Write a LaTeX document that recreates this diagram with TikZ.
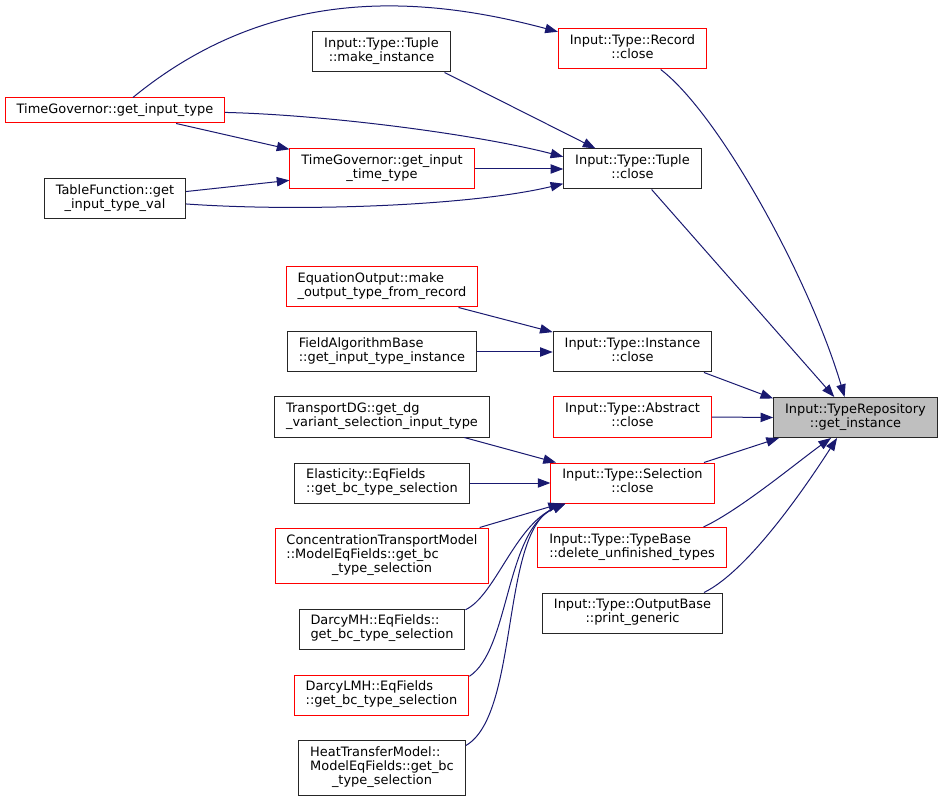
\documentclass[tikz,border=0pt]{standalone}
\usepackage{fontspec}
\setmainfont{DejaVu Sans}
\usepackage{xcolor}
\usepackage{tikz}
\usetikzlibrary{arrows.meta,positioning,calc}
\definecolor{doxedge}{HTML}{191970}
\definecolor{doxgrey}{HTML}{BFBFBF}
\newcommand{\cllab}[2]{\begin{tabular}{@{}l@{}}#1\\\multicolumn{1}{@{}c@{}}{#2}\end{tabular}}
\tikzset{
  dox node/.style={rectangle, draw=black!85, fill=white, line width=0.75pt, inner xsep=8.6pt, inner ysep=0pt, minimum height=18.75pt, font=\fontsize{9.7}{10.5}\selectfont},
  dox trunc/.style={dox node, draw=red},
  dox root/.style={dox node, fill=doxgrey},
  dox two/.style={minimum height=30pt},
  dox three/.style={minimum height=41.25pt},
  dox edge/.style={draw=doxedge, line width=0.75pt, -{Triangle[length=9.5pt,width=7pt]}}
}

\begin{document}
\begin{tikzpicture}[x=0.75pt, y=-0.75pt]
    \useasboundingbox (0,0) rectangle (943,802);

    % Root
    \node [dox root, dox two] (repo) at (855.5,417.5) {\cllab{Input::TypeRepository}{::get\_instance}};

    % Direct callers
    \node [dox trunc, dox two] (record) at (632.5,49) {\cllab{Input::Type::Record}{::close}};
    \node [dox node, dox two] (tuple) at (632.5,169) {\cllab{Input::Type::Tuple}{::close}};
    \node [dox node, dox two] (instance) at (632.5,352) {\cllab{Input::Type::Instance}{::close}};
    \node [dox trunc, dox two] (abstract) at (632.5,417) {\cllab{Input::Type::Abstract}{::close}};
    \node [dox trunc, dox two] (selection) at (632.5,483) {\cllab{Input::Type::Selection}{::close}};
    \node [dox trunc, dox two] (typebase) at (632,547.5) {\cllab{Input::Type::TypeBase}{::delete\_unfinished\_types}};
    \node [dox node, dox two] (outbase) at (632.5,613) {\cllab{Input::Type::OutputBase}{::print\_generic}};

    % Callers of the tuple
    \node [dox node, dox two] (make) at (381.5,52) {\cllab{Input::Type::Tuple}{::make\_instance}};
    \node [dox trunc] (tgtype) at (115,110.5) {TimeGovernor::get\_input\_type};
    \node [dox trunc, dox two] (tgtime) at (382,169) {\cllab{TimeGovernor::get\_input}{\_time\_type}};
    \node [dox node, dox two] (tabfn) at (115,199) {\cllab{TableFunction::get}{\_input\_type\_val}};

    % Callers of the instance
    \node [dox trunc, dox two] (eqout) at (382,287) {\cllab{EquationOutput::make}{\_output\_type\_from\_record}};
    \node [dox node, dox two] (fieldalg) at (382,352) {\cllab{FieldAlgorithmBase}{::get\_input\_type\_instance}};

    % Callers of the selection
    \node [dox node, dox two] (transdg) at (382,417) {\cllab{TransportDG::get\_dg}{\_variant\_selection\_input\_type}};
    \node [dox node, dox two] (elast) at (382,483) {\cllab{Elasticity::EqFields}{::get\_bc\_type\_selection}};
    \node [dox trunc, dox three] (conc) at (382,555.5) {\cllab{ConcentrationTransportModel\\::ModelEqFields::get\_bc}{\_type\_selection}};
    \node [dox node, dox two] (darcymh) at (382,629) {\cllab{DarcyMH::EqFields::}{get\_bc\_type\_selection}};
    \node [dox trunc, dox two] (darcylmh) at (381.5,695) {\cllab{DarcyLMH::EqFields}{::get\_bc\_type\_selection}};
    \node [dox node, dox three] (heat) at (382,768) {\cllab{HeatTransferModel::\\ModelEqFields::get\_bc}{\_type\_selection}};

    % Edges into the tuple and the record
    \draw [dox edge] (tgtype.36) .. controls (270,-15) and (420,-5) .. (record.167);
    \draw [dox edge] (make.-18) -- (tuple.151);
    \draw [dox edge] (tgtype.-1) .. controls (330,115) and (480,135) .. (tuple.170);
    \draw [dox edge] (tgtype.-12) -- (tgtime.168);
    \draw [dox edge] (tabfn.6) -- (tgtime.187);
    \draw [dox edge] (tabfn.-4) .. controls (300,212) and (470,206) .. (tuple.192);
    \draw [dox edge] (tgtime.east) -- (tuple.west);

    % Edges into the instance
    \draw [dox edge] (eqout.-15) -- (instance.166);
    \draw [dox edge] (fieldalg.east) -- (instance.west);

    % Edges into the selection
    \draw [dox edge] (transdg.-14) -- (selection.165);
    \draw [dox edge] (elast.east) -- (selection.west);
    \draw [dox edge] (conc.16) -- (selection.196);
    \draw [dox edge] (darcymh.13) .. controls (495,596) and (515,525) .. (selection.197);
    \draw [dox edge] (darcylmh.12) .. controls (510,650) and (505,530) .. (selection.197);
    \draw [dox edge] (heat.15) .. controls (520,715) and (500,530) .. (selection.197);

    % Edges into the root
    \draw [dox edge] (record.-36) .. controls (720,115) and (810,280) .. (repo.118);
    \draw [dox edge] (tuple.-47) -- (repo.136);
    \draw [dox edge] (instance.-16) -- (repo.167);
    \draw [dox edge] (abstract.east) -- (repo.west);
    \draw [dox edge] (selection.16) -- (repo.195);
    \draw [dox edge] (typebase.16) .. controls (740,510) and (800,460) .. (repo.220);
    \draw [dox edge] (outbase.16) .. controls (750,570) and (810,480) .. (repo.228);
\end{tikzpicture}
\end{document}
